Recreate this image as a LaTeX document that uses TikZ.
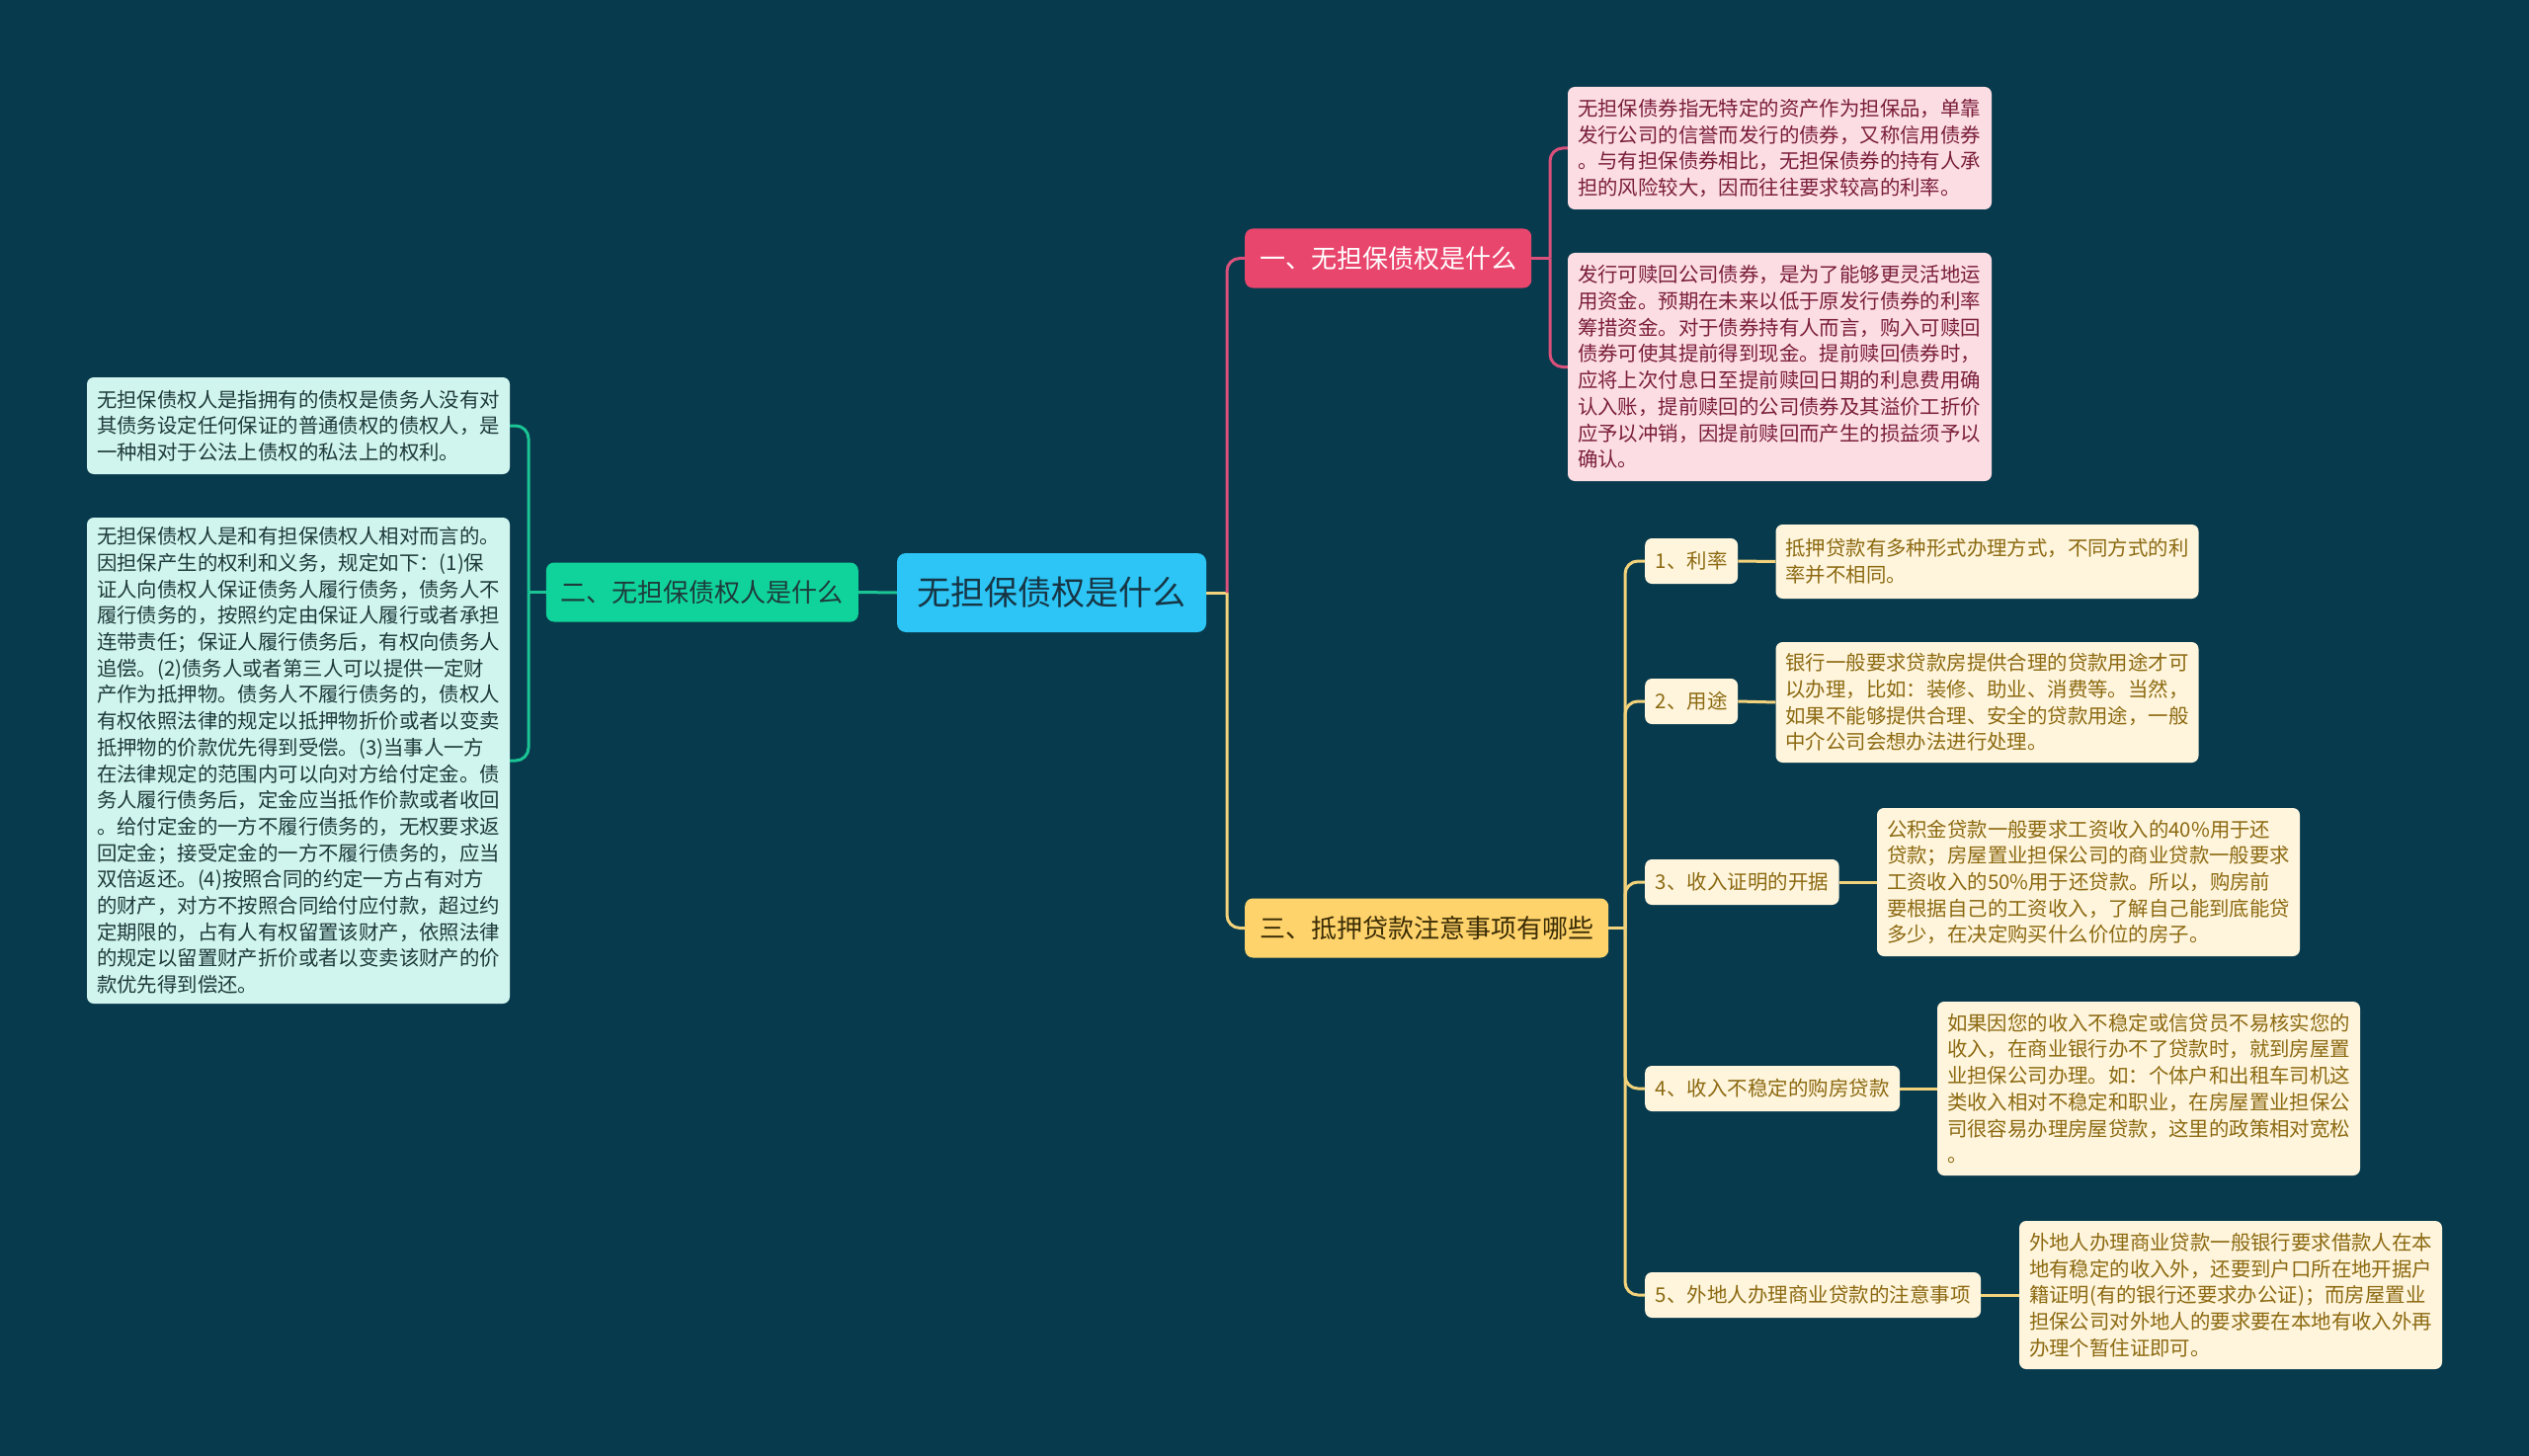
\documentclass[tikz,border=0pt]{standalone}
\usepackage{fontspec}
\setmainfont{Noto Sans CJK SC}
\definecolor{bg}{HTML}{083A4D}
\definecolor{rootc}{HTML}{2CC5F5}
\definecolor{roottxt}{HTML}{173545}
\definecolor{pinkc}{HTML}{E9466D}
\definecolor{pinkline}{HTML}{D9507A}
\definecolor{pleaf}{HTML}{FCDDE4}
\definecolor{ptxt}{HTML}{7A1E3A}
\definecolor{greenc}{HTML}{10D39B}
\definecolor{greenline}{HTML}{1BC494}
\definecolor{gleaf}{HTML}{D0F5EE}
\definecolor{gtxt}{HTML}{1E3A3A}
\definecolor{yelc}{HTML}{FFD36B}
\definecolor{yelline}{HTML}{F2D27A}
\definecolor{yleaf}{HTML}{FFF5DC}
\definecolor{ytxt}{HTML}{8C6A12}
\definecolor{b3txt}{HTML}{3A2C05}
\begin{document}
\begin{tikzpicture}[x=1pt,y=-1pt,
  box/.style={rounded corners=7pt, inner ysep=0pt, align=left},
  leafp/.style={box, fill=pleaf, text=ptxt, text width=409pt, inner xsep=10pt, font=\fontsize{20.4}{26.7}\selectfont},
  leafg/.style={box, fill=gleaf, text=gtxt, text width=408pt, inner xsep=10pt, font=\fontsize{20.4}{26.7}\selectfont},
  leafy/.style={box, fill=yleaf, text=ytxt, text width=408pt, inner xsep=10pt, font=\fontsize{20.4}{26.7}\selectfont},
  subn/.style={rounded corners=7pt, fill=yleaf, text=ytxt, inner xsep=10.5pt, inner ysep=0pt, minimum height=46pt, font=\fontsize{20.5}{24}\selectfont, anchor=west},
  brn/.style={rounded corners=8pt, inner xsep=15pt, inner ysep=0pt, minimum height=60pt, font=\fontsize{26}{30}\selectfont},
  conn/.style={line width=3pt, rounded corners=13pt},
]
\path[fill=bg] (0,0) rectangle (2560,1474);

% root
\node[rounded corners=9pt, fill=rootc, text=roottxt, minimum width=313pt, minimum height=80pt, inner sep=0pt, font=\fontsize{34}{40}\selectfont] (root) at (1064.5,600) {无担保债权是什么};

% branches
\node[brn, fill=pinkc, text=white, anchor=west] (b1) at (1260,261.5) {一、无担保债权是什么};
\node[brn, fill=greenc, text=gtxt, anchor=east] (b2) at (869,599.5) {二、无担保债权人是什么};
\node[brn, fill=yelc, text=b3txt, anchor=west] (b3) at (1260,939.5) {三、抵押贷款注意事项有哪些};

% branch 1 leaves
\node[leafp, minimum height=124pt] (l1a) at (1801.5,150) {无担保债券指无特定的资产作为担保品，单靠\\发行公司的信誉而发行的债券，又称信用债券\\。与有担保债券相比，无担保债券的持有人承\\担的风险较大，因而往往要求较高的利率。};
\node[leafp, minimum height=231pt] (l1b) at (1801.5,371.5) {发行可赎回公司债券，是为了能够更灵活地运\\用资金。预期在未来以低于原发行债券的利率\\筹措资金。对于债券持有人而言，购入可赎回\\债券可使其提前得到现金。提前赎回债券时，\\应将上次付息日至提前赎回日期的利息费用确\\认入账，提前赎回的公司债券及其溢价工折价\\应予以冲销，因提前赎回而产生的损益须予以\\确认。};

% branch 2 leaves
\node[leafg, minimum height=98pt] (l2a) at (302,431) {无担保债权人是指拥有的债权是债务人没有对\\其债务设定任何保证的普通债权的债权人，是\\一种相对于公法上债权的私法上的权利。};
\node[leafg, minimum height=492pt] (l2b) at (302,770) {无担保债权人是和有担保债权人相对而言的。\\因担保产生的权利和义务，规定如下：(1)保\\证人向债权人保证债务人履行债务，债务人不\\履行债务的，按照约定由保证人履行或者承担\\连带责任；保证人履行债务后，有权向债务人\\追偿。(2)债务人或者第三人可以提供一定财\\产作为抵押物。债务人不履行债务的，债权人\\有权依照法律的规定以抵押物折价或者以变卖\\抵押物的价款优先得到受偿。(3)当事人一方\\在法律规定的范围内可以向对方给付定金。债\\务人履行债务后，定金应当抵作价款或者收回\\。给付定金的一方不履行债务的，无权要求返\\回定金；接受定金的一方不履行债务的，应当\\双倍返还。(4)按照合同的约定一方占有对方\\的财产，对方不按照合同给付应付款，超过约\\定期限的，占有人有权留置该财产，依照法律\\的规定以留置财产折价或者以变卖该财产的价\\款优先得到偿还。};

% branch 3 sub nodes
\node[subn] (s1) at (1665,568) {1、利率};
\node[subn] (s2) at (1665,710) {2、用途};
\node[subn] (s3) at (1665,893) {3、收入证明的开据};
\node[subn] (s4) at (1665,1102) {4、收入不稳定的购房贷款};
\node[subn] (s5) at (1665,1311) {5、外地人办理商业贷款的注意事项};

% branch 3 leaves
\node[leafy, minimum height=75pt] (l31) at (2011.5,568.5) {抵押贷款有多种形式办理方式，不同方式的利\\率并不相同。};
\node[leafy, minimum height=122pt] (l32) at (2011.5,711) {银行一般要求贷款房提供合理的贷款用途才可\\以办理，比如：装修、助业、消费等。当然，\\如果不能够提供合理、安全的贷款用途，一般\\中介公司会想办法进行处理。};
\node[leafy, minimum height=150pt] (l33) at (2114,893) {公积金贷款一般要求工资收入的40\%用于还\\贷款；房屋置业担保公司的商业贷款一般要求\\工资收入的50\%用于还贷款。所以，购房前\\要根据自己的工资收入，了解自己能到底能贷\\多少，在决定购买什么价位的房子。};
\node[leafy, minimum height=176pt] (l34) at (2175,1102) {如果因您的收入不稳定或信贷员不易核实您的\\收入，在商业银行办不了贷款时，就到房屋置\\业担保公司办理。如：个体户和出租车司机这\\类收入相对不稳定和职业，在房屋置业担保公\\司很容易办理房屋贷款，这里的政策相对宽松\\。};
\node[leafy, minimum height=150pt] (l35) at (2258,1311) {外地人办理商业贷款一般银行要求借款人在本\\地有稳定的收入外，还要到户口所在地开据户\\籍证明(有的银行还要求办公证)；而房屋置业\\担保公司对外地人的要求要在本地有收入外再\\办理个暂住证即可。};

% junctions
\coordinate (j0) at (1242,600);
\coordinate (j1) at (1569,261.5);
\coordinate (j2) at (535,599.5);
\coordinate (j3) at (1645,939.5);

% connectors root
\draw[conn, greenline] (root.west) -- (b2.east);
\draw[conn, yelline] (root.east) -- (j0);
\draw[conn, yelline] (j0) |- (b3.west);
\draw[conn, pinkline] (j0) |- (b1.west);

% branch 1
\draw[conn, pinkline] (b1.east) -- (j1);
\draw[conn, pinkline] (j1) |- (l1a.west);
\draw[conn, pinkline] (j1) |- (l1b.west);

% branch 2
\draw[conn, greenline] (b2.west) -- (j2);
\draw[conn, greenline] (j2) |- (l2a.east);
\draw[conn, greenline] (j2) |- (l2b.east);

% branch 3
\draw[conn, yelline] (b3.east) -- (j3);
\foreach \s in {s1,s2,s3,s4,s5} {
  \draw[conn, yelline] (j3) |- (\s.west);
}
\draw[conn, yelline] (s1.east) -- (l31.west);
\draw[conn, yelline] (s2.east) -- (l32.west);
\draw[conn, yelline] (s3.east) -- (l33.west);
\draw[conn, yelline] (s4.east) -- (l34.west);
\draw[conn, yelline] (s5.east) -- (l35.west);
\end{tikzpicture}
\end{document}
